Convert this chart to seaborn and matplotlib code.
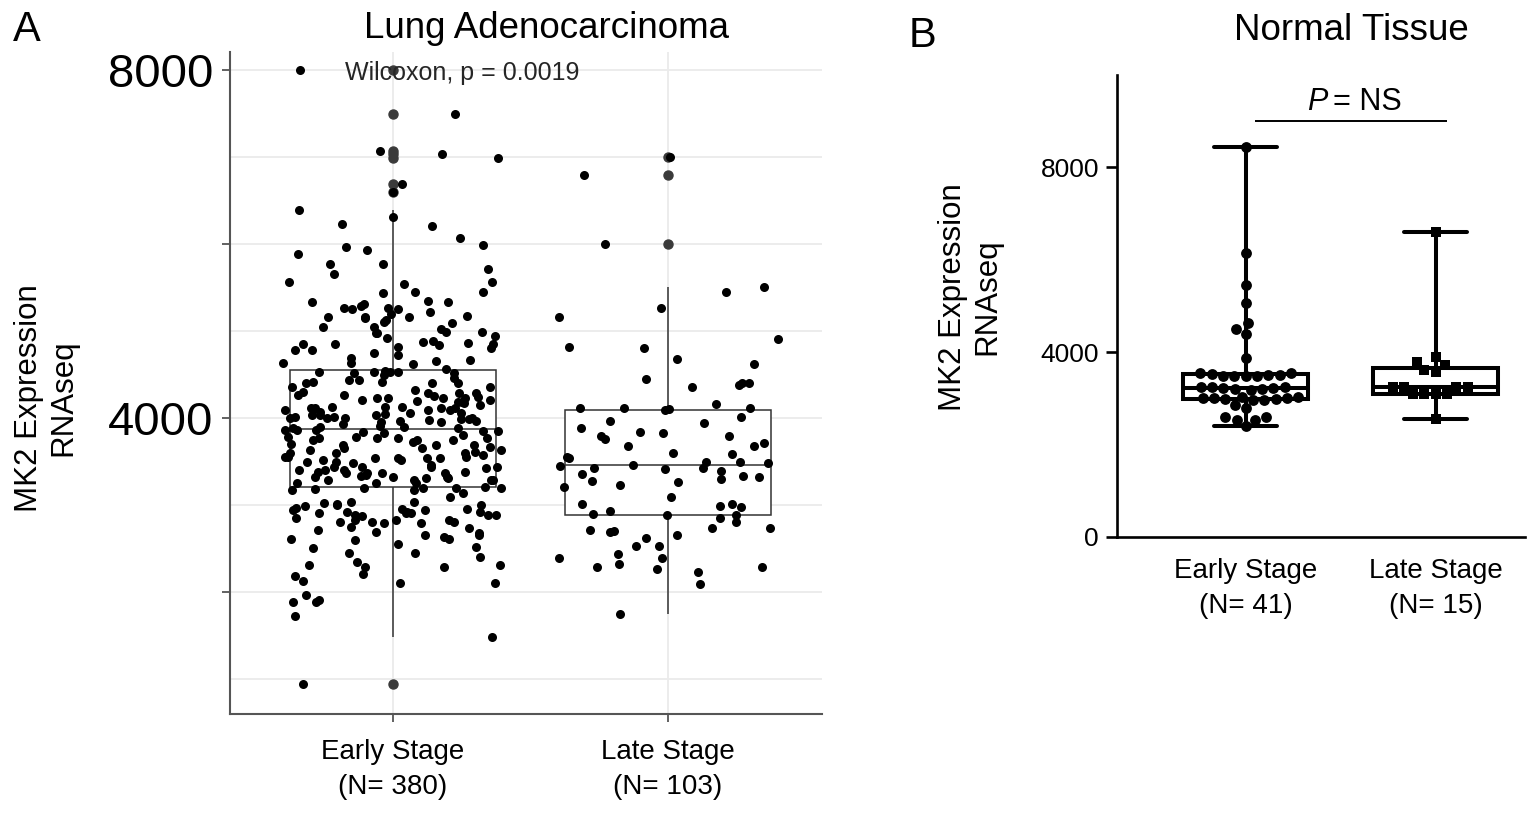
import numpy as np
import pandas as pd
import matplotlib
matplotlib.use("Agg")
import matplotlib.pyplot as plt
import seaborn as sns

# ---------------- data ----------------
categories_a = ["Early Stage\n(N= 380)", "Late Stage\n(N= 103)"]
early_a = [
    8000, 7494, 7073, 7034, 6992, 6693, 6600,
    6391, 6230, 6307, 6211, 6073, 5931, 5885, 5969, 5989, 5767,
    5767, 5713, 5567, 5445, 5567, 5652, 5540, 5445, 5330, 5249,
    5330, 5222, 5126, 5164, 5190, 5164, 5268, 5307, 5172, 5088,
    5249, 5164, 5268, 5433, 5291, 5345, 5145, 5107, 5023, 5050,
    4992, 5050, 4992, 4981, 4977,
    4877, 4820, 4751, 4628, 4851, 4839, 4724, 4655, 4850, 4889, 4782,
    4636, 4621, 4850, 4943, 4800, 4667, 4916, 4859, 4782, 4686,
    4544, 4559, 4532, 4417, 4437, 4513, 4437, 4532, 4532, 4417, 4513,
    4398, 4532, 4494, 4456, 4245, 4406,
    4284, 4360, 4360, 4284, 4264, 4226, 4188, 4111, 4111, 4284, 4264,
    4207, 4188, 4226, 4322,
    4226, 4169, 4092, 4092, 4034, 4123, 4015, 4130, 4199, 4226, 4207,
    4111, 4015, 4092, 4034, 4130,
    4061, 4073, 4111, 3996, 3996, 3969,
    3880, 3850, 3930, 3900, 3960, 3850, 4000, 3910, 3950, 3990, 4030,
    3980, 3990, 3900, 3770, 3700,
    3996, 4057, 3882, 3862, 3842, 3862, 3862, 3785, 3766, 3690, 3766, 3747,
    3785, 3728, 3670, 3632, 3594, 3555, 3555, 3766, 3824, 3747, 3690, 3747,
    3613, 3555, 3690, 3652, 3632, 3575, 3594, 3460, 3402, 3433,
    3537, 3517, 3537, 3517, 3479, 3364, 3383, 3402, 3333,
    3345, 3287, 3211, 3383, 3498, 3200,
    3441, 3364, 3402, 3326, 3421, 3364, 3307, 3287, 3307, 3249,
    3326, 3287, 3249, 3364, 3441, 3537, 3537, 3326, 3441, 3287, 3249,
    3172, 3172, 3198, 3134, 3191, 3096,
    3020, 3040, 3010, 3030,
    4300, 4150, 4050, 3950, 4400, 4250, 3800, 3650, 3500, 3190, 3180, 3600,
    2905, 2924, 2828, 2789, 2809, 2732, 2694, 2675, 2954, 2993,
    2655, 2751, 2828, 2954, 2789, 2924, 2847, 2905, 2828, 2605, 2605, 2924,
    2406, 2445, 2349, 2310, 2310, 2184, 2291, 2291, 2207, 2521, 2598, 2655,
    2943, 2886, 2962, 3000, 2886, 2809, 2713, 2452, 3000, 2905, 2809, 2510,
    2107, 2107,
    2943, 2886, 2874, 2628, 2552, 2130, 1966, 1889, 1908, 1724, 1889, 1486, 943,
]
late_a = [
    7000, 6793, 6000, 5445, 5509, 5268, 5164, 4908, 4820, 4800, 4682, 4621,
    4379, 4360, 4444, 4398, 4398, 4111, 4157, 4118, 4118, 4090, 4100, 4015, 3966,
    3939, 3835, 3796, 3796, 3824, 3882, 3755, 3716, 3678, 3678,
    3601, 3555, 3582, 3536, 3498, 3452, 3498, 3429, 3460, 3479,
    3414, 3429, 3394, 3356, 3333, 3318, 3276, 3261, 3230, 3295,
    3211, 3096, 3012, 2989, 3012, 2974, 2932, 2880, 2880, 2893,
    2855, 2809, 2732, 2732, 2706, 2694, 2713, 2652, 2617, 2532,
    2532, 2437, 2387, 2395, 2318, 2268, 2291, 2291, 2226, 2088, 1747,
]

categories_b = ["Early Stage\n(N= 41)", "Late Stage\n(N= 15)"]
early_b = [
    8450, 6140, 5450, 5060, 4634, 4512, 4404, 3885,
    3560, 3520, 3502, 3481, 3481, 3502, 3490, 3481, 3553,
    3240, 3215, 3200, 3190, 3236, 3215, 3200, 3240,
    3030, 3005, 2980, 3005, 2960, 3005, 3030, 2980, 2960,
    2854, 2782,
    2588, 2540, 2540, 2588, 2400,
]
late_b = [6594, 3898, 3791, 3719, 3611, 3575, 3250, 3245, 3240, 3250,
          3100, 3095, 3100, 3095, 2544]

title_a = "Lung Adenocarcinoma"
title_b = "Normal Tissue"
ylabel_text = "MK2 Expression\nRNAseq"
yticks_a = [2000, 4000, 6000, 8000]
yticklabels_a = ["", "4000", "", "8000"]
yminor_a = [1000, 3000, 5000, 7000]
yticks_b = [0, 4000, 8000]
stat_a = "Wilcoxon, p = 0.0019"
stat_b = "= NS"

# ---------------- style ----------------
sns.set_theme(style="ticks")
REG = ["Liberation Sans", "DejaVu Sans"]
plt.rcParams["font.family"] = REG
for k in ["text.color", "axes.labelcolor", "xtick.color", "ytick.color"]:
    plt.rcParams[k] = "black"

W, H = 1530, 816
fig = plt.figure(figsize=(W / 100, H / 100), dpi=100)


def fx(x):
    return x / W


def fy(y):
    return 1 - y / H


axA = fig.add_axes([fx(230), fy(714), 592 / W, 662 / H])
axB = fig.add_axes([fx(1117), fy(537), 408 / W, 462 / H])

# ---------------- panel A ----------------
dfa = pd.DataFrame({
    "stage": [categories_a[0]] * len(early_a) + [categories_a[1]] * len(late_a),
    "value": early_a + late_a,
})
sns.boxplot(data=dfa, x="stage", y="value", order=categories_a, width=0.75,
            color="white", linecolor="#333333", linewidth=1.1,
            showcaps=False, fliersize=6.5,
            flierprops=dict(marker="o", markerfacecolor="#3a3a3a",
                            markeredgecolor="#3a3a3a", markersize=6.5),
            ax=axA, zorder=2)
np.random.seed(7)
sns.stripplot(data=dfa, x="stage", y="value", order=categories_a,
              color="black", size=6.5, jitter=0.4, linewidth=0,
              ax=axA, zorder=3)

axA.set_xlim(-0.593, 1.56)
axA.set_ylim(598, 8207)
axA.set_yticks(yticks_a)
axA.set_yticklabels(yticklabels_a, fontsize=34, family=REG)
axA.set_yticks(yminor_a, minor=True)
axA.grid(True, which="both", axis="y", color="#ebebeb", lw=1.3)
axA.grid(True, which="major", axis="x", color="#ebebeb", lw=1.3)
axA.set_axisbelow(True)
for s in ["top", "right"]:
    axA.spines[s].set_visible(False)
for s in ["left", "bottom"]:
    axA.spines[s].set_color("#555555")
    axA.spines[s].set_linewidth(1.5)
axA.tick_params(axis="both", which="major", length=6, width=1.3,
                color="#555555", direction="out")
axA.tick_params(axis="y", which="major", pad=6)
axA.tick_params(axis="y", which="minor", length=0)
axA.tick_params(axis="x", which="major", pad=12)
axA.set_xticks([0, 1])
axA.set_xticklabels(categories_a, family=REG, fontsize=20)
for t in axA.get_xticklabels():
    t.set_linespacing(1.45)
axA.set_xlabel("")
axA.set_ylabel("")
axA.text(-0.175, 7960, stat_a, ha="left", va="center", fontsize=18,
         color="#262626", family=REG, zorder=5)

# ---------------- panel B ----------------
dfb = pd.DataFrame({
    "stage": [categories_b[0]] * len(early_b) + [categories_b[1]] * len(late_b),
    "value": early_b + late_b,
})
sns.boxplot(data=dfb, x="stage", y="value", order=categories_b, width=0.66,
            whis=(0, 100), color="white", linecolor="black", linewidth=2.9,
            showfliers=False, ax=axB, zorder=2)
sns.swarmplot(data=dfb[dfb["stage"] == categories_b[0]], x="stage", y="value",
              order=categories_b, color="black", size=7.8, marker="o",
              linewidth=0, ax=axB, zorder=3)
sns.swarmplot(data=dfb[dfb["stage"] == categories_b[1]], x="stage", y="value",
              order=categories_b, color="black", size=7.8, marker="s",
              linewidth=0, ax=axB, zorder=3)

axB.set_xlim(-0.677, 1.47)
axB.set_ylim(0, 10000)
axB.set_yticks(yticks_b)
axB.set_yticklabels([str(v) for v in yticks_b], fontsize=19, family=REG)
axB.grid(False)
for s in ["top", "right"]:
    axB.spines[s].set_visible(False)
for s in ["left", "bottom"]:
    axB.spines[s].set_color("black")
    axB.spines[s].set_linewidth(1.9)
axB.tick_params(axis="y", length=8, width=1.9, color="black", pad=5)
axB.tick_params(axis="x", length=0, pad=15)
axB.set_xticks([0, 1])
axB.set_xticklabels(categories_b, family=REG, fontsize=20)
for t in axB.get_xticklabels():
    t.set_linespacing(1.45)
axB.set_xlabel("")
axB.set_ylabel("")
axB.plot([0.05, 1.06], [8995, 8995], color="black", lw=1.4,
         solid_capstyle="butt")
axB.text(0.43, 9420, "P", ha="right", va="center", fontsize=22,
         style="italic", family=REG)
axB.text(0.46, 9420, stat_b, ha="left", va="center", fontsize=22,
         family=REG)

# ---------------- figure texts ----------------
fig.text(fx(27), fy(30), "A", fontsize=30, ha="center", va="center", family=REG)
fig.text(fx(922), fy(36), "B", fontsize=30, ha="center", va="center", family=REG)
fig.text(fx(547), fy(28), title_a, fontsize=26.5, ha="center", va="center",
         family=REG)
fig.text(fx(1351), fy(30), title_b, fontsize=26.5, ha="center", va="center",
         family=REG)
fig.text(fx(46), fy(398), ylabel_text, fontsize=22.5, rotation=90,
         ha="center", va="center", multialignment="center", family=REG)
fig.text(fx(970), fy(297), ylabel_text, fontsize=22.5, rotation=90,
         ha="center", va="center", multialignment="center", family=REG)

fig.savefig("out.png", dpi=100)
